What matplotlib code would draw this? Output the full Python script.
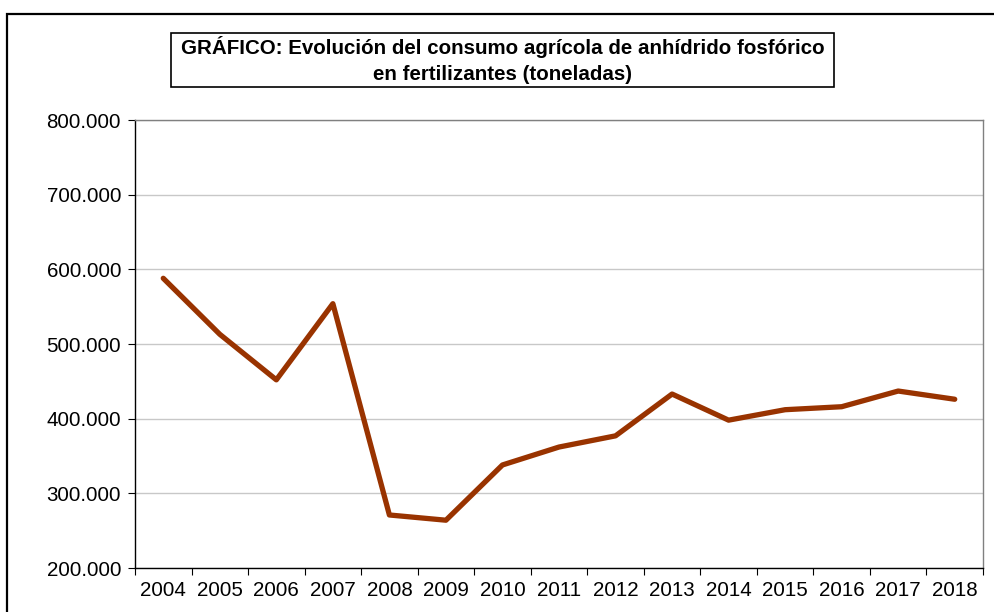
import matplotlib
matplotlib.use('Agg')
from matplotlib import pyplot as plt
from matplotlib.patches import Rectangle
from matplotlib.ticker import FuncFormatter, FixedLocator

# data
years = ['2004', '2005', '2006', '2007', '2008', '2009', '2010', '2011',
         '2012', '2013', '2014', '2015', '2016', '2017', '2018']
tonnes = [588000, 513000, 452000, 554000, 271000, 264000, 338000, 362000,
          377000, 433000, 398000, 412000, 416000, 437000, 426000]
yTicks = [200000, 300000, 400000, 500000, 600000, 700000, 800000]
titleText = 'GRÁFICO: Evolución del consumo agrícola de anhídrido fosfórico\nen fertilizantes (toneladas)'

plt.rcParams['font.family'] = ['Liberation Sans', 'DejaVu Sans']

W, H = 995, 612
fig = plt.figure(figsize=(W / 100, H / 100), dpi=100)

# outer chart border (runs off right and bottom edges)
fig.patches.append(Rectangle((7 / W, -0.1), 1.1, 1 - 14 / H + 0.1,
                             transform=fig.transFigure, fill=False,
                             edgecolor='black', linewidth=1.6, clip_on=False))

# title box
fig.patches.append(Rectangle((171 / W, 1 - 87 / H), (834 - 171) / W, 54 / H,
                             transform=fig.transFigure, facecolor='white',
                             edgecolor='black', linewidth=1.2))

ax = fig.add_axes([135 / W, 1 - 568 / H, (983 - 135) / W, (568 - 120) / H])
x = list(range(len(years)))
ax.plot(x, tonnes, color='#993300', linewidth=3.8, solid_capstyle='round',
        solid_joinstyle='round')

ax.set_xlim(-0.5, len(years) - 0.5)
ax.set_ylim(200000, 800000)
ax.set_yticks(yTicks)
ax.yaxis.set_major_formatter(FuncFormatter(lambda v, p: '{:,.0f}'.format(v).replace(',', '.')))
ax.set_xticks(x)
ax.set_xticklabels(years)
ax.xaxis.set_major_locator(FixedLocator(x))
ax.tick_params(axis='x', length=0, labelsize=14.8, pad=9)
ax.xaxis.set_minor_locator(FixedLocator([i - 0.5 for i in range(len(years) + 1)]))
ax.tick_params(axis='x', which='minor', length=5, width=0.8, direction='out')
ax.tick_params(axis='y', length=5, width=0.8, direction='out', labelsize=14.8, pad=5)

ax.grid(axis='y', color='#c8c8c8', linewidth=1)
ax.set_axisbelow(True)
for side in ['left', 'bottom']:
    ax.spines[side].set_color('black')
    ax.spines[side].set_linewidth(1)
for side in ['top', 'right']:
    ax.spines[side].set_color('#808080')
    ax.spines[side].set_linewidth(1)

fig.text((171 + 834) / 2 / W, 1 - 60 / H, titleText, ha='center', va='center',
         fontsize=14.8, fontweight='bold', linespacing=1.4)

fig.savefig('out.png', dpi=100)
